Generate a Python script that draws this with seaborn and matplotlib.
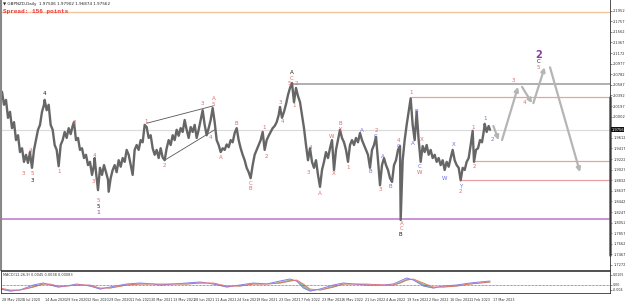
import matplotlib
matplotlib.use("Agg")
import matplotlib.pyplot as plt
from matplotlib.transforms import blended_transform_factory
import seaborn as sns
import pandas as pd

# ---- price path (bar index, price) ----
bars = [0, 3, 6, 9, 12, 15, 18, 21, 24, 27, 30, 33, 36, 39, 42, 45, 46, 48, 51, 54,
        57, 60, 63, 66, 67, 70, 73, 76, 79, 82, 85, 88, 91, 94, 97, 100, 103, 106, 109, 111,
        114, 117, 120, 123, 126, 129, 132, 135, 138, 141, 142, 144, 147, 150, 153, 156, 159, 162, 163, 166,
        169, 172, 175, 178, 181, 184, 187, 190, 193, 196, 199, 202, 205, 208, 211, 214, 217, 220, 223, 226,
        229, 232, 235, 238, 241, 244, 247, 250, 253, 256, 259, 262, 265, 268, 271, 274, 277, 280, 283, 286,
        289, 292, 295, 298, 301, 304, 307, 310, 313, 316, 319, 322, 325, 328, 331, 334, 337, 340, 343, 346,
        349, 352, 355, 358, 361, 364, 367, 370, 373, 376, 379, 382, 385, 388, 391, 394, 397, 400, 403, 406,
        409, 412, 415, 418, 420, 423, 426, 429, 432, 435, 438, 441, 444, 447, 450, 453, 456, 459, 462, 465,
        468, 471, 474, 477, 480, 483, 486, 489, 492, 495, 498, 501, 504, 507, 510, 513, 516, 519, 522, 525,
        528, 531, 534, 537, 540, 543, 546, 549, 552, 555, 558, 561, 564, 567, 570, 573, 576, 579, 582, 585,
        588, 591, 594, 597, 600, 601, 604, 607, 610, 613, 616, 619, 622, 625, 628, 631, 634, 637, 640, 643,
        646, 649, 652, 655, 658, 661, 664, 667, 670, 673, 676, 679, 682, 685, 688, 691, 694, 697, 700, 703,
        706, 709, 711, 714, 717, 720, 723, 726, 727, 730, 733, 735]
close = [2.040, 2.046, 2.022, 2.031, 1.998, 2.009, 1.979, 1.990, 1.957, 1.966, 1.935, 1.942, 1.917, 1.930, 1.915, 1.935, 1.924, 1.906, 1.939, 1.957,
         1.976, 1.985, 2.009, 2.022, 2.031, 2.012, 2.022, 1.985, 1.976, 1.948, 1.939, 1.909, 1.948, 1.957, 1.972, 1.961, 1.979, 1.968, 1.983, 1.990,
         1.957, 1.961, 1.939, 1.942, 1.924, 1.930, 1.911, 1.917, 1.893, 1.911, 1.924, 1.898, 1.865, 1.906, 1.893, 1.911, 1.898, 1.884, 1.862, 1.887,
         1.902, 1.911, 1.898, 1.920, 1.908, 1.924, 1.917, 1.939, 1.930, 1.911, 1.893, 1.939, 1.948, 1.939, 1.957, 1.953, 1.985, 1.981, 1.961, 1.966,
         1.942, 1.930, 1.939, 1.924, 1.942, 1.925, 1.920, 1.942, 1.957, 1.948, 1.966, 1.957, 1.976, 1.965, 1.979, 1.972, 1.994, 1.976, 1.961, 1.981,
         1.972, 1.985, 1.961, 1.976, 1.994, 2.012, 1.985, 1.966, 1.979, 1.994, 2.016, 1.990, 1.957, 1.948, 1.935, 1.942, 1.939, 1.949, 1.944, 1.957,
         1.953, 1.970, 1.979, 1.957, 1.942, 1.930, 1.920, 1.906, 1.898, 1.887, 1.911, 1.930, 1.939, 1.948, 1.957, 1.972, 1.939, 1.957, 1.965, 1.972,
         1.979, 1.983, 1.990, 2.003, 2.018, 1.998, 2.009, 2.023, 2.040, 2.053, 2.062, 2.027, 2.053, 2.038, 2.027, 2.003, 1.979, 1.948, 1.920, 1.942,
         1.917, 1.906, 1.920, 1.893, 1.871, 1.902, 1.917, 1.935, 1.924, 1.942, 1.957, 1.902, 1.939, 1.957, 1.976, 1.961, 1.953, 1.939, 1.917, 1.948,
         1.957, 1.948, 1.961, 1.953, 1.970, 1.957, 1.948, 1.939, 1.930, 1.906, 1.939, 1.948, 1.963, 1.920, 1.874, 1.911, 1.924, 1.911, 1.902, 1.887,
         1.880, 1.911, 1.920, 1.939, 1.946, 1.810, 1.920, 1.957, 1.985, 2.009, 2.034, 1.985, 1.957, 2.009, 1.957, 1.917, 1.946, 1.935, 1.948, 1.930,
         1.939, 1.924, 1.930, 1.917, 1.924, 1.911, 1.920, 1.902, 1.917, 1.908, 1.924, 1.939, 1.920, 1.911, 1.906, 1.883, 1.906, 1.902, 1.917, 1.924,
         1.948, 1.974, 1.917, 1.939, 1.942, 1.957, 1.953, 1.976, 1.987, 1.972, 1.983, 1.976]

# projected path (pairs of start / end points)
proj_bars = [740, 748, 753, 777, 783, 798, 800, 817, 825, 870]
proj_prices = [1.983, 1.957, 1.957, 2.055, 2.055, 2.025, 2.025, 2.091, 2.091, 1.898]

# horizontal levels: (price, start bar)
levels_pink = [(2.036, 616), (1.918, 711), (1.884, 691)]
level_gray = (2.060, 438)
level_orange = 2.193
level_purple = 1.812
level_current = 1.976

# wedge lines
wedge_upper = ([220, 320], [1.988, 2.020])
wedge_lower = ([247, 322], [1.920, 1.976])

# wave labels (text, bar, price)
red_labels = [("3", 35, 1.896), ("4", 46, 1.937), ("5", 48, 1.895), ("1", 88, 1.900), ("2", 112, 1.990),
              ("4", 142, 1.928), ("3", 140, 1.880), ("5", 147, 1.845), ("1", 219, 1.992), ("2", 247, 1.911),
              ("3", 304, 2.024), ("A", 320, 2.033), ("5", 320, 2.022), ("4", 315, 1.961), ("A", 331, 1.925),
              ("B", 355, 1.988), ("C", 376, 1.878), ("B", 376, 1.868), ("1", 396, 1.981), ("2", 399, 1.926),
              ("3", 421, 2.027), ("4", 424, 1.992), ("C", 438, 2.071), ("5", 434, 2.062), ("2", 445, 2.062),
              ("1", 441, 2.021), ("4", 465, 1.944), ("3", 462, 1.898), ("A", 480, 1.858), ("W", 498, 1.963),
              ("X", 501, 1.895), ("B", 510, 1.987), ("Y", 510, 1.976), ("1", 522, 1.907), ("2", 564, 1.974),
              ("3", 570, 1.866), ("4", 598, 1.957), ("A", 603, 1.804), ("C", 603, 1.794), ("1", 616, 2.045),
              ("X", 633, 1.959), ("W", 630, 1.897), ("2", 691, 1.862), ("1", 709, 1.981), ("2", 711, 1.909),
              ("3", 770, 2.066), ("4", 787, 2.027), ("5", 808, 2.090)]
blue_labels = [("A", 543, 1.974), ("B", 556, 1.900), ("C", 564, 1.963), ("A", 574, 1.927), ("B", 586, 1.872),
               ("C", 598, 1.946), ("B", 625, 2.010), ("A", 619, 1.951), ("C", 630, 1.908), ("W", 667, 1.887),
               ("X", 681, 1.948), ("Y", 691, 1.872), ("1", 727, 1.997), ("2", 739, 1.958)]
black_labels = [("3", 48, 1.883), ("4", 67, 2.042), ("5", 147, 1.835), ("A", 438, 2.082),
                ("B", 601, 1.783), ("C", 808, 2.101)]
purple_labels = [("1", 147, 1.824), ("2", 808, 2.113)]

# MACD panel
macd_bars = [0, 15, 30, 50, 65, 75, 87, 100, 115, 135, 150, 165, 190, 210, 230, 240, 260, 280, 300, 320,
             340, 360, 380, 400, 420, 435, 445, 455, 465, 480, 500, 515, 530, 550, 575, 590, 600, 610, 620, 635,
             650, 665, 685, 705, 720, 735]
macd_main = [-0.004, -0.006, -0.005, 0.000, 0.002, 0.000, -0.002, -0.001, 0.001, -0.001, -0.004, -0.002, 0.001, 0.002, 0.001, 0.000, 0.001, 0.002, 0.003, 0.001,
             -0.002, 0.000, 0.002, 0.001, 0.004, 0.006, 0.004, -0.003, -0.006, -0.004, 0.000, 0.002, 0.001, 0.000, 0.000, 0.001, 0.004, 0.007, 0.005, -0.001,
             -0.003, -0.001, 0.000, 0.002, 0.003, 0.004]
macd_signal = [-0.003, -0.005, -0.005, -0.002, 0.001, 0.001, -0.001, -0.001, 0.000, 0.000, -0.003, -0.003, 0.000, 0.001, 0.001, 0.001, 0.001, 0.001, 0.002, 0.002,
               -0.001, -0.001, 0.001, 0.001, 0.002, 0.004, 0.005, 0.001, -0.004, -0.005, -0.002, 0.001, 0.001, 0.001, 0.000, 0.000, 0.002, 0.005, 0.006, 0.002,
               -0.002, -0.002, -0.001, 0.001, 0.002, 0.003]

date_labels = ["28 May 2020", "1 Jul 2020", "14 Aug 2020", "29 Sep 2020", "12 Nov 2020", "29 Dec 2020",
               "11 Feb 2021", "30 Mar 2021", "13 May 2021", "28 Jun 2021", "11 Aug 2021", "24 Sep 2021",
               "9 Nov 2021", "23 Dec 2021", "7 Feb 2022", "23 Mar 2022", "6 May 2022", "21 Jun 2022",
               "4 Aug 2022", "19 Sep 2022", "2 Nov 2022", "16 Dec 2022", "1 Feb 2023", "17 Mar 2023"]
date_bars = [3 + 32 * i for i in range(len(date_labels))]

sns.set_style("white")
plt.rcParams['font.family'] = ['DejaVu Sans']

W, H = 625, 301
fig = plt.figure(figsize=(W / 100, H / 100), dpi=100)
ax = fig.add_axes([1 / W, 1 - 270 / H, 609 / W, 270 / H])
ax2 = fig.add_axes([1 / W, 1 - 293 / H, 609 / W, 22 / H])

XMIN, XMAX = 1.5, 915
ax.set_xlim(XMIN, XMAX)
ax.set_ylim(1.718, 2.2148)

# levels
ax.axhline(level_orange, color='#f2c49a', lw=1.0)
ax.axhline(level_current, color='#dadada', lw=0.8)
ax.axhline(level_purple, color='#c58ad0', lw=1.3)
ax.hlines(level_gray[0], level_gray[1], XMAX, color='#a9a9a9', lw=1.3)
for p, b in levels_pink:
    ax.hlines(p, b, XMAX, color='#eaa0a0', lw=0.9)

ax.plot(*wedge_upper, color='#555555', lw=0.6)
ax.plot(*wedge_lower, color='#555555', lw=0.6)

df = pd.DataFrame({'bar': bars, 'price': close})
sns.lineplot(data=df, x='bar', y='price', ax=ax, color='#666666', lw=1.7,
             estimator=None, sort=False)

for i in range(0, len(proj_bars), 2):
    ax.annotate('', xy=(proj_bars[i + 1], proj_prices[i + 1]), xytext=(proj_bars[i], proj_prices[i]),
                arrowprops=dict(arrowstyle='-|>', color='#b5b5b5', lw=1.6, mutation_scale=6,
                                shrinkA=0, shrinkB=0))

for labels, col in [(red_labels, '#e26a6a'), (blue_labels, '#6f6fe0'), (black_labels, '#1a1a1a')]:
    for t, b, p in labels:
        ax.text(b, p, t, color=col, fontsize=4.0, ha='center', va='center')
ax.text(*purple_labels[0][1:], purple_labels[0][0], color='#9a3fb0', fontsize=4.5, ha='center', va='center')
ax.text(*purple_labels[1][1:], purple_labels[1][0], color='#8a3aa0', fontsize=7, fontweight='bold',
        ha='center', va='center')

# title block
ax.text(0.004, 0.993, "▼ GBPNZD,Daily  1.97506 1.97902 1.96874 1.97562", transform=ax.transAxes,
        fontsize=3.0, color='#222222', va='top', ha='left')
ax.text(0.004, 0.968, "Spread: 156 points", transform=ax.transAxes, fontsize=4.3,
        color='#ee3333', fontweight='bold', family='Liberation Mono', va='top', ha='left')

# right price scale (the tick hidden behind the current-price box is skipped)
yt = [1.7272 + 0.0195 * k for k in range(25)]
yt = [v for v in yt if abs(v - level_current) > 0.008]
ax.yaxis.tick_right()
ax.set_yticks(yt)
ax.set_yticklabels([f"{v:.4f}" for v in yt])
ax.tick_params(axis='y', labelsize=2.6, length=1.5, width=0.4, pad=0.8, colors='#333333')
ax.set_xticks([])
ax.set_xlabel('')
ax.set_ylabel('')
tr = blended_transform_factory(ax.transAxes, ax.transData)
ax.text(1.002, level_current, "1.9756", transform=tr, fontsize=2.6, color='white', va='center',
        ha='left', bbox=dict(boxstyle='square,pad=0.12', fc='#111111', ec='none'))
ax.plot([1.0, 1.0], [1.745, 2.036], transform=tr, color='#555555', lw=1.8, clip_on=False)

ax.spines['top'].set_visible(False)
ax.spines['left'].set_color('#888888')
ax.spines['left'].set_linewidth(1.5)
ax.spines['right'].set_color('#333333')
ax.spines['right'].set_linewidth(0.6)
ax.spines['bottom'].set_color('#333333')
ax.spines['bottom'].set_linewidth(0.6)

# MACD panel
ax2.set_xlim(XMIN, XMAX)
ax2.set_ylim(-0.008, 0.014)
ax2.axhline(0, color='#444444', lw=0.5, ls=(0, (1, 1)))
ax2.fill_between(macd_bars, macd_main, macd_signal, color='#3aa03a', alpha=0.6, lw=0)
mdf = pd.DataFrame({'bar': macd_bars, 'main': macd_main, 'signal': macd_signal})
sns.lineplot(data=mdf, x='bar', y='main', ax=ax2, color='#8c7cf0', lw=0.7, estimator=None)
sns.lineplot(data=mdf, x='bar', y='signal', ax=ax2, color='#f06a6a', lw=0.6, estimator=None)
ax2.text(0.004, 0.93, "MACD(12,26,9) 0.0045 0.0038 0.00083", transform=ax2.transAxes,
         fontsize=2.5, color='#333333', va='top', ha='left')
ax2.yaxis.tick_right()
ax2.set_yticks([0.0105, 0.0, -0.0045])
ax2.set_yticklabels(["0.0105", "0.00", "-0.004"])
ax2.tick_params(axis='y', labelsize=2.3, length=1.2, width=0.4, pad=0.6, colors='#333333')
ax2.set_xticks(date_bars)
ax2.set_xticklabels(date_labels, ha='left')
ax2.tick_params(axis='x', labelsize=2.4, length=2, width=0.4, pad=1.5, colors='#333333')
ax2.set_xlabel('')
ax2.set_ylabel('')
for s in ax2.spines.values():
    s.set_color('#333333')
    s.set_linewidth(0.6)

fig.savefig('out.png', dpi=100)
